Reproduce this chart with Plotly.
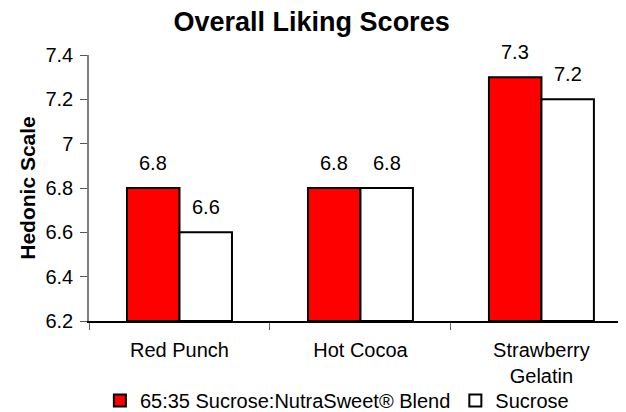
import plotly.graph_objects as go

categories = ["Red Punch", "Hot Cocoa", "Strawberry<br>Gelatin"]
blend_values = [6.8, 6.8, 7.3]
sucrose_values = [6.6, 6.8, 7.2]
series_names = ["65:35 Sucrose:NutraSweet® Blend", "Sucrose"]
y_ticks = [6.2, 6.4, 6.6, 6.8, 7.0, 7.2, 7.4]
y_ticktext = ["6.2", "6.4", "6.6", "6.8", "7", "7.2", "7.4"]

FONT = "Liberation Sans, Arial, sans-serif"
# the page body adds an 8px offset, so margins are compensated
W, H = 626, 412
ML, MR, MT, MB = 81, 1, 47, 99
X_RANGE = [-0.5, 2.506]
BARGAP = 0.42

fig = go.Figure()
fig.add_trace(go.Bar(
    x=categories, y=[v - 6.2 for v in blend_values], base=6.2,
    name=series_names[0],
    marker=dict(color="#FF0000", line=dict(color="black", width=2)),
))
fig.add_trace(go.Bar(
    x=categories, y=[v - 6.2 for v in sucrose_values], base=6.2,
    name=series_names[1],
    marker=dict(color="white", line=dict(color="black", width=2)),
))

# value labels above bars (offset to each bar's centre within its group)
cat_px = (W - ML - MR) / (X_RANGE[1] - X_RANGE[0])
half_bar = cat_px * (1 - BARGAP) / 4
annotations = []
for vals, sign in ((blend_values, -1), (sucrose_values, 1)):
    for c, v in zip(categories, vals):
        annotations.append(dict(
            x=c, y=v, xref="x", yref="y", text=f"{v:.1f}", showarrow=False,
            xshift=sign * half_bar, yshift=12, yanchor="bottom",
            font=dict(size=20, color="black", family=FONT),
        ))

fig.update_layout(
    width=W, height=H,
    margin=dict(l=ML, r=MR, t=MT, b=MB, autoexpand=False),
    paper_bgcolor="white", plot_bgcolor="white",
    font=dict(family=FONT, size=20, color="black"),
    title=dict(text="<b>Overall Liking Scores</b>", x=0.485, xanchor="center",
               xref="container", yref="container", y=0.966, yanchor="middle",
               font=dict(size=27)),
    barmode="group", bargap=BARGAP, bargroupgap=0,
    showlegend=True,
    legend=dict(orientation="h", x=0.02, xanchor="left",
                yref="container", y=-0.02, yanchor="bottom",
                bgcolor="rgba(0,0,0,0)",
                font=dict(size=20), itemwidth=30, traceorder="normal",
                tracegroupgap=0, itemclick=False),
    annotations=annotations,
)
fig.update_xaxes(
    range=X_RANGE, automargin=False,
    showline=True, linecolor="black", linewidth=1.5,
    ticks="outside", tickson="boundaries", ticklen=7, tickcolor="#666",
    showgrid=False, tickfont=dict(size=20), ticklabelstandoff=10,
)
fig.update_yaxes(
    range=[6.2, 7.4], tickvals=y_ticks, ticktext=y_ticktext, automargin=False,
    showline=True, linecolor="#808080", linewidth=1.5,
    ticks="outside", ticklen=7, tickcolor="#555",
    showgrid=False, zeroline=False, tickfont=dict(size=20), ticklabelstandoff=3,
    title=dict(text="<b>Hedonic Scale</b>", font=dict(size=21), standoff=4),
)

fig.write_html("out.html")
